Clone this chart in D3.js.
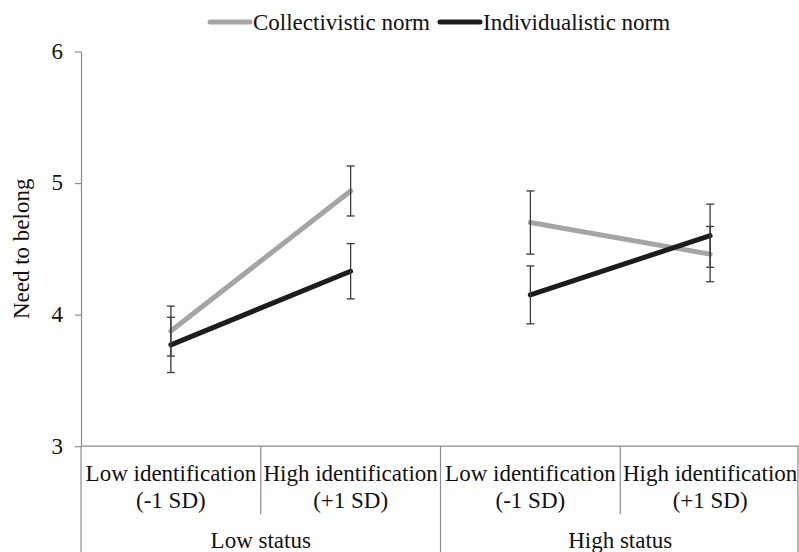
<!DOCTYPE html>
<html>
<head>
<meta charset="utf-8">
<script src="https://cdn.jsdelivr.net/npm/d3@7"></script>
<style>
  body { margin: 0; background: #fff; }
</style>
</head>
<body>
<div id="graphic"></div>
<script>
var categories = ["Low identification|(-1 SD)", "High identification|(+1 SD)", "Low identification|(-1 SD)", "High identification|(+1 SD)"],
    groups = ["Low status", "High status"],
    seriesNames = ["Collectivistic norm", "Individualistic norm"],
    collectivistic = [3.875, 4.94, 4.70, 4.46],
    collectivisticErr = [0.19, 0.19, 0.24, 0.21],
    individualistic = [3.77, 4.33, 4.15, 4.60],
    individualisticErr = [0.21, 0.21, 0.22, 0.24],
    yTicks = [3, 4, 5, 6];

var colors = ["#a5a5a5", "#1c1c1c"];
var font = "Liberation Serif",
    fontSize = 23,
    axisColor = "#8c8c8c",
    textColor = "#111";

var width = 799, height = 552;
var margin = { top: 51.5, right: 0, bottom: 106, left: 81 };

var svg = d3.select("#graphic").append("svg")
    .attr("width", width)
    .attr("height", height)
    .attr("font-family", font);

var x = d3.scaleBand()
    .domain(d3.range(categories.length))
    .range([margin.left, width + 1])
    .paddingInner(0).paddingOuter(0);

var y = d3.scaleLinear()
    .domain([3, 6])
    .range([height - margin.bottom + 0.2, margin.top]);

var cx = function (i) { return x(i) + x.bandwidth() / 2; };

// y axis
var yAxis = svg.append("g")
    .attr("transform", "translate(" + margin.left + ",0)")
    .call(d3.axisLeft(y).tickValues(yTicks).tickFormat(d3.format("d"))
        .tickSize(6).tickSizeOuter(0).tickPadding(12));
yAxis.attr("font-family", font).attr("font-size", fontSize);
yAxis.select(".domain").attr("stroke", axisColor).attr("stroke-width", 1.2);
yAxis.selectAll(".tick line").attr("stroke", axisColor).attr("stroke-width", 1.2);
yAxis.selectAll(".tick text")
    .attr("font-family", font)
    .attr("font-size", fontSize)
    .attr("fill", textColor)
    .attr("dy", "0.3em");

svg.append("text")
    .attr("transform", "translate(29," + ((y(3) + y(6)) / 2) + ") rotate(-90)")
    .attr("text-anchor", "middle")
    .attr("font-family", font)
    .attr("font-size", fontSize)
    .attr("fill", textColor)
    .text("Need to belong");

// category axis
var base = y(3);
svg.append("line")
    .attr("x1", margin.left).attr("x2", width)
    .attr("y1", base).attr("y2", base)
    .attr("stroke", axisColor).attr("stroke-width", 1.2);

svg.selectAll(".divider")
    .data(d3.range(categories.length + 1))
    .enter().append("line")
    .attr("class", "divider")
    .attr("x1", function (i) { return i < categories.length ? x(i) : width - 1; })
    .attr("x2", function (i) { return i < categories.length ? x(i) : width - 1; })
    .attr("y1", base)
    .attr("y2", function (i) { return i % 2 === 0 ? height : base + 68; })
    .attr("stroke", axisColor).attr("stroke-width", 1.2);

var catLabels = svg.selectAll(".cat")
    .data(categories)
    .enter().append("text")
    .attr("class", "cat")
    .attr("text-anchor", "middle")
    .attr("font-family", font)
    .attr("font-size", fontSize)
    .attr("fill", textColor);
catLabels.each(function (d, i) {
    var parts = d.split("|");
    d3.select(this).selectAll("tspan")
        .data(parts)
        .enter().append("tspan")
        .attr("x", cx(i))
        .attr("y", function (p, j) { return base + 35 + j * 26.5; })
        .text(function (p) { return p; });
});

svg.selectAll(".grp")
    .data(groups)
    .enter().append("text")
    .attr("class", "grp")
    .attr("text-anchor", "middle")
    .attr("x", function (d, g) { return (x(g * 2) + x(g * 2 + 1) + x.bandwidth()) / 2; })
    .attr("y", base + 101.5)
    .attr("font-family", font)
    .attr("font-size", fontSize)
    .attr("fill", textColor)
    .text(function (d) { return d; });

// series
var series = [
    { name: seriesNames[0], values: collectivistic, err: collectivisticErr, color: colors[0] },
    { name: seriesNames[1], values: individualistic, err: individualisticErr, color: colors[1] }
];

var line = d3.line()
    .x(function (d) { return cx(d.i); })
    .y(function (d) { return y(d.v); });

series.forEach(function (s) {
    [0, 1].forEach(function (g) {
        var pts = [g * 2, g * 2 + 1].map(function (i) { return { i: i, v: s.values[i] }; });
        svg.append("path")
            .datum(pts)
            .attr("d", line)
            .attr("fill", "none")
            .attr("stroke", s.color)
            .attr("stroke-width", 5)
            .attr("stroke-linecap", "round");
    });
});

// error bars on top
series.forEach(function (s) {
    var eb = svg.append("g").selectAll("g")
        .data(s.values)
        .enter().append("g");
    eb.append("line")
        .attr("x1", function (d, i) { return cx(i); })
        .attr("x2", function (d, i) { return cx(i); })
        .attr("y1", function (d, i) { return y(d + s.err[i]); })
        .attr("y2", function (d, i) { return y(d - s.err[i]); })
        .attr("stroke", "#3a3a3a").attr("stroke-width", 1.3);
    [1, -1].forEach(function (sign) {
        eb.append("line")
            .attr("x1", function (d, i) { return cx(i) - 4; })
            .attr("x2", function (d, i) { return cx(i) + 4; })
            .attr("y1", function (d, i) { return y(d + sign * s.err[i]); })
            .attr("y2", function (d, i) { return y(d + sign * s.err[i]); })
            .attr("stroke", "#3a3a3a").attr("stroke-width", 1.3);
    });
});

// legend
var legendX = [210, 440];
var legend = svg.selectAll(".legend")
    .data(series)
    .enter().append("g")
    .attr("class", "legend")
    .attr("transform", function (d, i) { return "translate(" + legendX[i] + ",22)"; });
legend.append("line")
    .attr("x1", 0).attr("x2", 40)
    .attr("stroke", function (d) { return d.color; })
    .attr("stroke-width", 5)
    .attr("stroke-linecap", "round");
legend.append("text")
    .attr("x", 43)
    .attr("y", 7.5)
    .attr("font-family", font)
    .attr("font-size", fontSize)
    .attr("fill", textColor)
    .text(function (d) { return d.name; });
</script>
</body>
</html>
